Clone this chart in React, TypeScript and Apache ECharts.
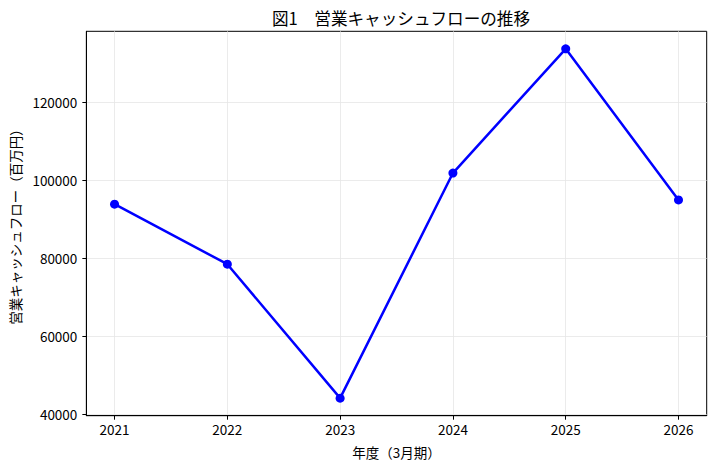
import React, { useEffect, useRef } from "react";
import * as echarts from "echarts";

const years = [2021, 2022, 2023, 2024, 2025, 2026];
const cashFlow = [93800, 78400, 44000, 101800, 133700, 94900];
const yTicks = [40000, 60000, 80000, 100000, 120000];
const titleText = "図1　営業キャッシュフローの推移";
const xName = "年度（3月期）";
const yName = "営業キャッシュフロー（百万円）";

const FONT = "'Noto Sans CJK JP', 'Noto Sans', sans-serif";

export default function App() {
  const ref = useRef<HTMLDivElement>(null);
  useEffect(() => {
    if (!ref.current) return;
    const chart = echarts.init(ref.current, undefined, { renderer: "svg" });
    chart.setOption({
      animation: false,
      backgroundColor: "#ffffff",
      textStyle: { fontFamily: FONT },
      title: {
        text: titleText,
        left: 396,
        top: 5,
        textAlign: "center",
        textStyle: { fontFamily: FONT, fontSize: 16.6, fontWeight: "normal", color: "#000" },
      },
      grid: {
        left: 86,
        right: 8.3,
        top: 31.3,
        bottom: 53.3,
        show: true,
        borderColor: "#000",
        borderWidth: 1,
        backgroundColor: "transparent",
      },
      xAxis: {
        type: "value",
        min: 2020.75,
        max: 2026.25,
        name: xName,
        nameLocation: "middle",
        nameGap: 30,
        nameTextStyle: { fontFamily: FONT, fontSize: 13.5, color: "#000" },
        axisLine: { show: true, lineStyle: { color: "#000", width: 1 } },
        axisTick: { show: true, length: 4, inside: false, lineStyle: { color: "#000" }, customValues: years },
        axisLabel: {
          customValues: years,
          margin: 7,
          fontFamily: FONT,
          fontSize: 13.5,
          color: "#000",
          formatter: (v: number) => String(Math.round(v)),
        },
        splitLine: { show: true, lineStyle: { color: "#e6e6e6", width: 0.8 } },
      },
      yAxis: {
        type: "value",
        min: 39500,
        max: 138200,
        name: yName,
        nameLocation: "middle",
        nameRotate: 90,
        nameGap: 60,
        nameTextStyle: { fontFamily: FONT, fontSize: 13.5, color: "#000" },
        axisLine: { show: true, lineStyle: { color: "#000", width: 1 } },
        axisTick: { show: true, length: 4, inside: false, lineStyle: { color: "#000" }, customValues: yTicks },
        axisLabel: {
          customValues: yTicks,
          margin: 9,
          fontFamily: FONT,
          fontSize: 13.5,
          color: "#000",
          formatter: (v: number) => String(Math.round(v)),
        },
        splitLine: { show: true, lineStyle: { color: "#e6e6e6", width: 0.8 } },
      },
      series: [
        {
          type: "line",
          data: years.map((y, i) => [y, cashFlow[i]]),
          symbol: "circle",
          symbolSize: 9,
          lineStyle: { color: "#0000ff", width: 2.5 },
          itemStyle: { color: "#0000ff" },
        },
      ],
    });
    return () => chart.dispose();
  }, []);
  return (
    <div
      ref={ref}
      style={{ position: "fixed", left: 0, top: 0, width: 715, height: 469 }}
    />
  );
}
